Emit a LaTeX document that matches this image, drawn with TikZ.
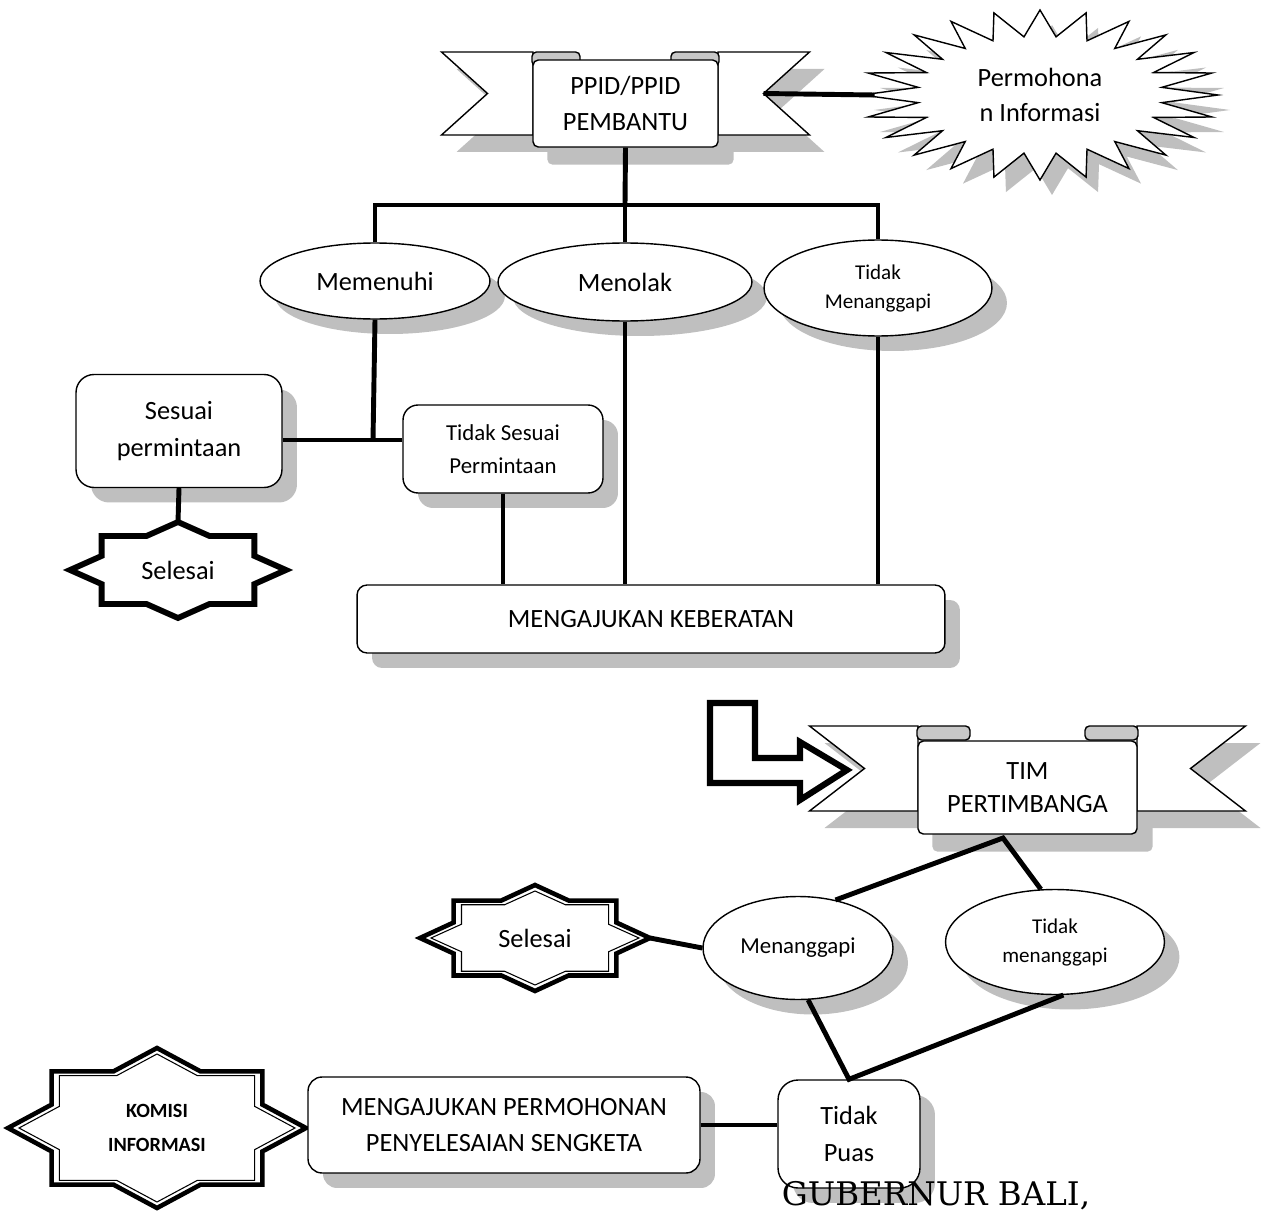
\documentclass[tikz,border=0pt]{standalone}
\usepackage{fontspec}
\setmainfont{Carlito}
\newfontfamily\gubfont{DejaVu Serif}
\usetikzlibrary{calc,shadows,shapes.geometric,backgrounds}

\definecolor{shadowgrey}{RGB}{191,191,191}
\definecolor{tabgrey}{RGB}{200,200,200}

\tikzset{
  conn/.style={line width=2.8pt},
  softshadow/.style={drop shadow={shadow xshift=0.3cm,shadow yshift=-0.3cm,fill=shadowgrey,opacity=1}},
  roundbox/.style={draw,fill=white,line width=0.8pt,rounded corners=0.36cm,align=center,inner sep=0pt,font=\fontsize{15}{21}\selectfont,softshadow},
  oval/.style={ellipse,draw,fill=white,line width=0.8pt,align=center,inner sep=0pt,font=\fontsize{15}{18}\selectfont,softshadow},
  smalltext/.style={font=\fontsize{12}{16.5}\selectfont},
  panel/.style={draw,fill=white,line width=0.8pt,rounded corners=3pt,align=center,inner sep=0pt,font=\fontsize{15}{20}\selectfont},
  plaintext/.style={align=center,inner sep=0pt,font=\fontsize{15}{20}\selectfont},
  bandline/.style={draw,fill=white,line width=0.8pt,line join=miter},
  tabpiece/.style={draw,fill=tabgrey,line width=0.8pt,rounded corners=2.5pt},
  burstline/.style={draw,fill=white,line width=0.8pt},
  starthick/.style={draw=black,fill=white,line width=2.6pt,line join=miter,miter limit=20},
  starbold/.style={starthick,line width=3.3pt},
  starthin/.style={draw=black,line width=0.6pt,line join=miter,miter limit=20},
  hollowarrow/.style={draw,fill=white,line width=3.5pt,line join=miter}
}

% ribbon behind a panel node: node, band half width, band top, band bottom, notch, panel half width, tab width
\newcommand\ribbonband[7]{%
  \fill[shadowgrey,rounded corners=3pt] ($(#1.north west)+(15,17)$) rectangle ($(#1.south east)+(15,17)$);
  \begin{scope}[shift={(#1)}]
    \fill[shadowgrey,shift={(15,17)}] ({-(#2)},#3) -- ({#2},#3) -- ({(#2)-(#5)},{((#3)+(#4))/2}) -- ({#2},#4)
      -- ({-(#2)},#4) -- ({-(#2)+(#5)},{((#3)+(#4))/2}) -- cycle;
    \path[bandline] ({-(#2)},#3) -- ({-(#6)},#3) -- ({-(#6)},#4) -- ({-(#2)},#4) -- ({-(#2)+(#5)},{((#3)+(#4))/2}) -- cycle;
    \path[bandline] ({#2},#3) -- ({#6},#3) -- ({#6},#4) -- ({#2},#4) -- ({(#2)-(#5)},{((#3)+(#4))/2}) -- cycle;
    \path[tabpiece] ({-(#6)-1},#3) rectangle ({-(#6)+(#7)},{(#3)+14});
    \path[tabpiece] ({(#6)-(#7)},#3) rectangle ({(#6)+1},{(#3)+14});
    \coordinate (#1-notch) at ({(#2)-(#5)},{((#3)+(#4))/2});
  \end{scope}}

% eight point star outline: half width, half height, style
\newcommand\eightpoint[3]{%
  \path[#3] (0,{-(#2)}) \foreach \fx/\fy in {0.293/-0.707,0.707/-0.707,0.707/-0.293,1/0,0.707/0.293,0.707/0.707,0.293/0.707,0/1,
      -0.293/0.707,-0.707/0.707,-0.707/0.293,-1/0,-0.707/-0.293,-0.707/-0.707,-0.293/-0.707}
    {-- ({\fx*(#1)},{\fy*(#2)})} -- cycle;}

\newcommand\octstar[4]{%
  \begin{scope}[shift={(#1)}]
    \coordinate (#1-n) at (0,{-(#3)});
    \coordinate (#1-s) at (0,{#3});
    \coordinate (#1-e) at ({#2},0);
    \coordinate (#1-w) at ({-(#2)},0);
    \eightpoint{#2}{#3}{#4}
  \end{scope}}

\newcommand\dblstar[3]{%
  \octstar{#1}{#2}{#3}{starthick}
  \begin{scope}[shift={(#1)}]
    \eightpoint{(#2)-11}{(#3)-6}{starthin}
  \end{scope}}

% 24 point burst: rx, ry, inner ratio, style
\newcommand\burstpath[4]{%
  \path[#4] ({#1},0) \foreach \k in {1,...,47}
    {-- ({(#1)*cos(7.5*\k)*(1-(1-(#3))*mod(\k,2))},{(#2)*sin(7.5*\k)*(1-(1-(#3))*mod(\k,2))})} -- cycle;}

\newcommand\burst[4]{%
  \begin{scope}[shift={(#1)}]
    \burstpath{#2}{#3}{#4}{fill=shadowgrey,shift={(12,15)}}
    \burstpath{#2}{#3}{#4}{burstline}
  \end{scope}}

\begin{document}
\begin{tikzpicture}[x=0.02cm,y=-0.02cm]
\useasboundingbox (0,0) rectangle (1262,1220);

% upper flow
\node[panel,minimum width=3.7cm,minimum height=1.74cm] (ppid) at (625.5,103.5) {PPID/PPID\\PEMBANTU};
\node[plaintext,minimum width=6.6cm] (perm) at (1040,95) {Permohona\\n Informasi};
\coordinate (bus) at (625,205);

\node[oval,minimum width=4.6cm,minimum height=1.52cm] (memenuhi) at (375,281) {Memenuhi};
\node[oval,minimum width=5.08cm,minimum height=1.56cm] (menolak) at (625,282) {Menolak};
\node[oval,smalltext,minimum width=4.56cm,minimum height=1.92cm] (tidakm) at (878,288) {Tidak\\Menanggapi};

\node[roundbox,minimum width=4.12cm,minimum height=2.26cm] (sesuai) at (179,431) {Sesuai\\permintaan};
\node[roundbox,minimum width=4cm,minimum height=1.76cm,rounded corners=0.3cm,font=\fontsize{13}{19}\selectfont] (tdksesuai) at (503,449) {Tidak Sesuai\\Permintaan};
\coordinate (split) at (373,440);
\node[plaintext] (selesai1) at (178,570) {Selesai};

\node[roundbox,minimum width=11.76cm,minimum height=1.36cm,rounded corners=0.2cm] (keberatan) at (651,619) {MENGAJUKAN KEBERATAN};

% lower flow
\node[panel,minimum width=4.38cm,minimum height=1.86cm,font=\fontsize{15}{19}\selectfont] (tim) at (1027.5,787.5) {TIM\\PERTIMBANGA};
\coordinate (fork) at (1003,838);

\node[oval,minimum width=3.8cm,minimum height=2.06cm,font=\fontsize{13}{16}\selectfont] (menanggapi) at (798,948) {Menanggapi};
\node[oval,smalltext,minimum width=4.38cm,minimum height=2.1cm] (tidakm2) at (1055,942) {Tidak\\menanggapi};
\node[plaintext] (selesai2) at (535,938) {Selesai};

\node[roundbox,minimum width=2.84cm,minimum height=2.16cm,rounded corners=0.4cm] (puas) at (849,1134) {Tidak\\Puas};
\node[roundbox,minimum width=7.84cm,minimum height=1.92cm,rounded corners=0.28cm,font=\fontsize{15}{20}\selectfont] (sengketa) at (504,1125) {MENGAJUKAN PERMOHONAN\\PENYELESAIAN SENGKETA};
\node[plaintext,font=\bfseries\fontsize{11.5}{19}\selectfont] (komisi) at (157,1128) {KOMISI\\INFORMASI};

\node[inner sep=0pt,font=\gubfont\fontsize{18.5}{21}\selectfont] (gub) at (936,1196) {GUBERNUR BALI,};

\begin{scope}[on background layer]
  \ribbonband{ppid}{184}{-51.5}{31.5}{46}{92.5}{47}
  \ribbonband{tim}{218}{-61.5}{23.5}{55}{109.5}{52}
  \burst{perm}{178}{85}{0.69}
  \octstar{selesai1}{108}{48}{starbold}
  \dblstar{selesai2}{115}{53}
  \dblstar{komisi}{149}{80}
\end{scope}

% connectors
\draw[conn] (ppid.south) -- (bus);
\draw[conn,line join=miter] (memenuhi.north) |- (bus) -| (tidakm.north);
\draw[conn] (bus) -- (menolak.north);
\draw[conn] (ppid-notch) -- (perm.west);
\draw[conn] (memenuhi.south) -- (split);
\draw[conn] (sesuai.east |- split) -- (tdksesuai.west |- split);
\draw[conn] (sesuai.south) -- (selesai1-n);
\draw[conn] (tdksesuai.south) -- (tdksesuai.south |- keberatan.north);
\draw[conn] (menolak.south) -- (menolak.south |- keberatan.north);
\draw[conn] (tidakm.south) -- (tidakm.south |- keberatan.north);

\draw[conn,line join=miter] (menanggapi.52) -- (fork) -- (tidakm2.105);
\draw[conn] (selesai2-e) -- (menanggapi.west);
\draw[conn,line join=miter] (menanggapi.-79) -- (puas.north) -- (tidakm2.-81);
\draw[conn] (sengketa.east) -- (sengketa.east -| puas.west);

% bent arrow into the second ribbon
\draw[hollowarrow] (710,703) -- (755,703) -- (755,758) -- (800,758) -- (800,742) -- (847,770)
  -- (800,800) -- (800,783) -- (710,783) -- cycle;
\end{tikzpicture}
\end{document}
